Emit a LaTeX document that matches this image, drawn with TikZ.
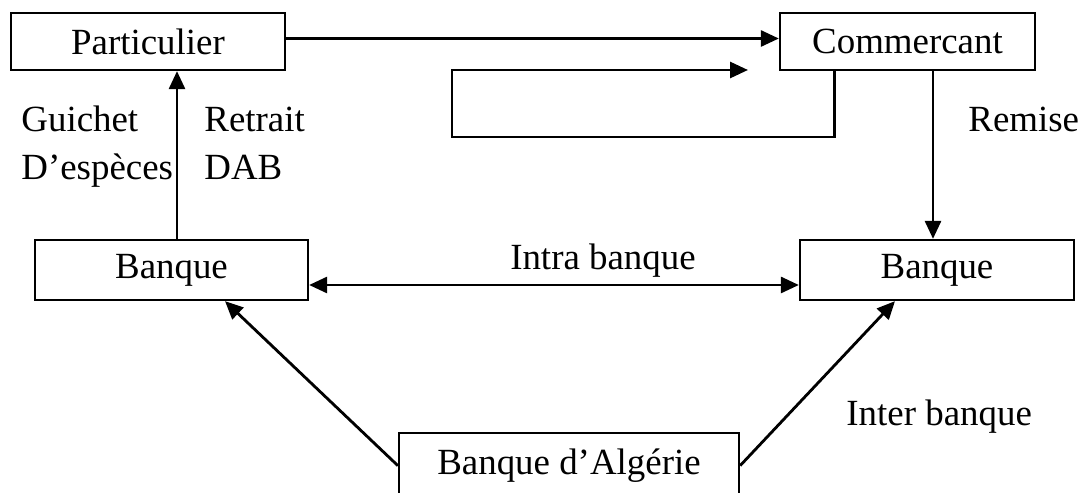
\documentclass[tikz,border=0pt]{standalone}
\usepackage{fontspec}
\setmainfont{Liberation Serif}
\usetikzlibrary{arrows.meta,positioning,calc}

\begin{document}
\begin{tikzpicture}[
  acteur/.style={rectangle, draw, line width=1.3pt, minimum height=1.2cm, inner sep=0pt},
  etiquette/.style={anchor=base west, inner sep=0pt},
  >={Triangle[length=3.6mm,width=3.2mm]}, line width=1.6pt,
  font=\fontsize{21}{25}\selectfont
]
\useasboundingbox (0,0) rectangle (21.7,9.84);
\clip (0,0) rectangle (21.7,9.84);

% Acteurs
\node[acteur, minimum width=5.48cm, minimum height=1.14cm] (part) at (2.96,9.01) {Particulier};
\node[acteur, minimum width=5.1cm, minimum height=1.14cm] (comm) at (18.15,9.01) {Commercant};
\node[acteur, minimum width=5.46cm] (bankL) at (3.43,4.44) {Banque};
\node[acteur, minimum width=5.48cm] (bankR) at (18.74,4.44) {Banque};
\node[acteur, minimum width=6.8cm, minimum height=1.3cm, anchor=north] (alg) at (11.38,1.2) {Banque d’Algérie};

% Paiement et boucle du commercant
\draw[->] ([yshift=0.6mm]part.east) -- ([yshift=0.6mm]comm.west);
\coordinate (loopA) at (9.04,7.1);
\coordinate (loopEnd) at (14.96,8.44);
\draw[->] ([xshift=1.12cm]comm.south west) |- (loopA) |- (loopEnd);

% Retrait
\draw[->] ([xshift=1.1mm]bankL.north) -- ([xshift=1.1mm]bankL.north |- part.south);
\node[etiquette] (guichet) at (0.4,7.2) {Guichet};
\node[etiquette] (especes) at (0.4,6.24) {D’espèces};
\node[etiquette] (retrait) at (4.06,7.2) {Retrait};
\node[etiquette] (dab) at (4.06,6.24) {DAB};

% Remise
\draw[->] ([xshift=5.1mm]comm.south) -- ([xshift=5.1mm]comm.south |- bankR.north);
\node[etiquette] (remise) at (19.34,7.2) {Remise};

% Intra banque
\draw[<->] ([yshift=-3mm]bankL.east) -- node[pos=0.6, above] {Intra banque} ([yshift=-3mm]bankR.west);

% Inter banque
\draw[->] (alg.west) -- ([xshift=1.07cm]bankL.south);
\draw[->] (alg.east) -- ([xshift=-0.84cm]bankR.south);
\node[etiquette] (inter) at (16.9,1.32) {Inter banque};

\end{tikzpicture}
\end{document}
